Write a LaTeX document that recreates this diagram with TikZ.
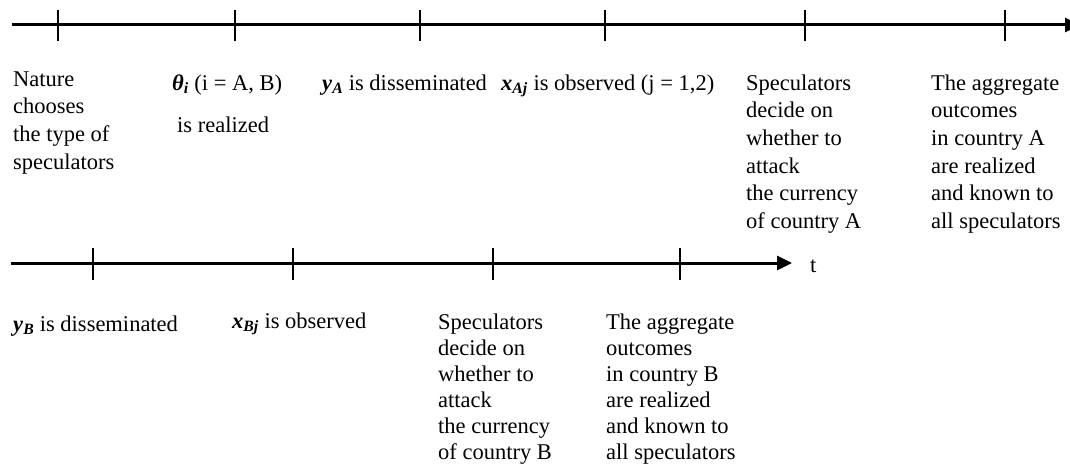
\documentclass[tikz,border=0pt]{standalone}
\usepackage{fontspec}
\setmainfont{Liberation Serif}
\usetikzlibrary{arrows.meta}
\newcommand\mvar[2]{\textbf{\textit{#1}}\textsubscript{\textbf{\textit{#2}}}}
\begin{document}
\begin{tikzpicture}[x=1pt,y=-1pt,
  axis/.style={line width=3pt,-{Triangle[length=15pt,width=14pt]}},
  tick/.style={line width=1.3pt},
  lbl/.style={anchor=north west,inner sep=0pt,align=left,yshift=19.4pt,
    font=\fontsize{22.5}{27.7}\selectfont},
  lblb/.style={anchor=north west,inner sep=0pt,align=left,yshift=18.2pt,
    font=\fontsize{22.5}{26}\selectfont}]
\clip (0,0) rectangle (1070,473);
\useasboundingbox (0,0) rectangle (1070,473);
% top axis
\coordinate (a0) at (12,25);
\coordinate (a1) at (1080,25);
\draw[axis] (a0) -- (a1);
\foreach \x [count=\i] in {58,235,420,605,805,1005}{
  \coordinate (ta\i) at (\x,10);
  \coordinate (tb\i) at (\x,41);
  \draw[tick] (ta\i) -- (tb\i);
}
% bottom axis
\coordinate (b0) at (11,263);
\coordinate (b1) at (792,263);
\draw[axis] (b0) -- (b1);
\foreach \x [count=\i] in {93,293,493,680}{
  \coordinate (sa\i) at (\x,248);
  \coordinate (sb\i) at (\x,280);
  \draw[tick] (sa\i) -- (sb\i);
}
\node[lbl] (t) at (810,272) {\strut t};
% top labels
\node[lbl] (n1) at (13,86) {\strut Nature\\chooses\\the type of\\speculators};
\node[lbl] (n2) at (172,90) {\strut\mvar{θ}{i} (i = A, B)};
\node[lbl] (n2b) at (177,132) {\strut is realized};
\node[lbl] (n3) at (322,90) {\strut\mvar{y}{A} is disseminated};
\node[lbl] (n4) at (501,90) {\strut\mvar{x}{Aj} is observed (j = 1,2)};
\node[lbl] (n5) at (746,90) {\strut Speculators\\decide on\\whether to\\attack\\the currency\\of country A};
\node[lbl] (n6) at (931,90) {\strut The aggregate\\outcomes\\in country A\\are realized\\and known to\\all speculators};
% bottom labels
\node[lblb] (m1) at (13,331) {\strut\mvar{y}{B} is disseminated};
\node[lblb] (m2) at (232,328) {\strut\mvar{x}{Bj} is observed};
\node[lblb] (m3) at (438,329) {\strut Speculators\\decide on\\whether to\\attack\\the currency\\of country B};
\node[lblb] (m4) at (606,329) {\strut The aggregate\\outcomes\\in country B\\are realized\\and known to\\all speculators};
\end{tikzpicture}
\end{document}
